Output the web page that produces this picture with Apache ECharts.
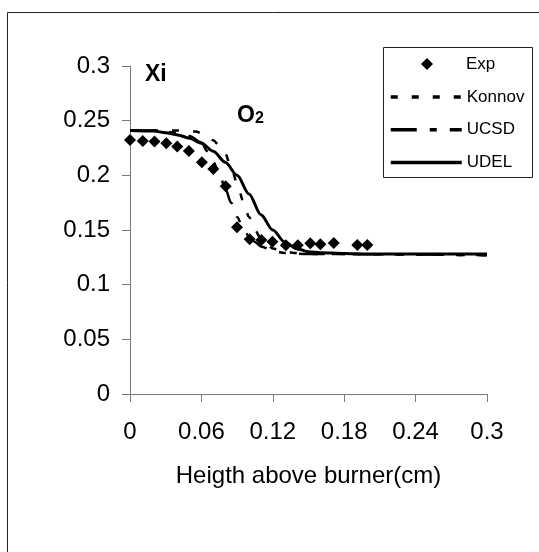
<!DOCTYPE html>
<html>
<head>
<meta charset="utf-8">
<script src="https://cdn.jsdelivr.net/npm/echarts@6/dist/echarts.min.js"></script>
<style>
html,body{margin:0;padding:0;background:#fff;}
#c{width:539px;height:552px;}
</style>
</head>
<body>
<div id="c"></div>
<script>
// Experimental data (Exp)
var expX = [0, 0.0107, 0.0206, 0.0305, 0.0397, 0.0495, 0.0604, 0.070, 0.0804, 0.0899, 0.1006, 0.1104, 0.1197, 0.131, 0.141, 0.1515, 0.160, 0.1712, 0.191, 0.1994];
var expY = [0.2324, 0.2315, 0.2310, 0.2293, 0.2263, 0.2223, 0.2120, 0.2058, 0.1900, 0.1525, 0.1415, 0.1409, 0.1393, 0.1360, 0.1360, 0.1378, 0.1370, 0.1382, 0.1363, 0.1363];

// Konnov model
var konX = [0, 0.04, 0.055, 0.065, 0.07, 0.075, 0.08, 0.085, 0.09, 0.095, 0.10, 0.105, 0.11, 0.115, 0.12, 0.13, 0.14, 0.16, 0.30];
var konY = [0.241, 0.241, 0.240, 0.236, 0.232, 0.227, 0.220, 0.207, 0.193, 0.177, 0.162, 0.150, 0.142, 0.137, 0.133, 0.130, 0.129, 0.128, 0.127];

// UCSD model
var ucsdX = [0, 0.02, 0.04, 0.05, 0.06, 0.065, 0.07, 0.075, 0.08, 0.085, 0.09, 0.095, 0.10, 0.105, 0.11, 0.12, 0.13, 0.15, 0.30];
var ucsdY = [0.241, 0.241, 0.239, 0.236, 0.230, 0.222, 0.212, 0.202, 0.188, 0.175, 0.162, 0.152, 0.144, 0.139, 0.135, 0.131, 0.129, 0.128, 0.127];

// UDEL model
var udelX = [0, 0.02, 0.03, 0.04, 0.05, 0.06, 0.07, 0.08, 0.09, 0.10, 0.11, 0.12, 0.13, 0.14, 0.15, 0.16, 0.18, 0.20, 0.30];
var udelY = [0.241, 0.2405, 0.239, 0.237, 0.234, 0.2294, 0.222, 0.212, 0.200, 0.183, 0.164, 0.150, 0.139, 0.133, 0.130, 0.1293, 0.1285, 0.128, 0.128];

var legendNames = ['Exp', 'Konnov', 'UCSD', 'UDEL'];
var xTicks = {min: 0, max: 0.3, interval: 0.06};
var yTicks = {min: 0, max: 0.3, interval: 0.05};

function zip(a, b) { return a.map(function (v, i) { return [v, b[i]]; }); }

var chart = echarts.init(document.getElementById('c'), null, {renderer: 'canvas'});
var axisFont = {fontFamily: "'Liberation Sans', Arial, sans-serif", fontSize: 24, color: '#000'};
var legFont = {fontFamily: "'Liberation Sans', Arial, sans-serif", fontSize: 17, color: '#000'};
var konDash = [7, 14], ucsdDash = [26, 13, 7, 13];

chart.setOption({
  animation: false,
  backgroundColor: '#fff',
  grid: {left: 130, right: 52, top: 66, bottom: 158, containLabel: false},
  xAxis: {
    type: 'value', min: xTicks.min, max: xTicks.max, interval: xTicks.interval,
    name: 'Heigth above burner(cm)', nameLocation: 'middle', nameGap: 70,
    nameTextStyle: axisFont,
    axisLine: {show: true, lineStyle: {color: '#7a7a7a', width: 1}},
    axisTick: {show: true, inside: false, length: 8, lineStyle: {color: '#7a7a7a'}},
    axisLabel: Object.assign({margin: 26}, axisFont),
    splitLine: {show: false}
  },
  yAxis: {
    type: 'value', min: yTicks.min, max: yTicks.max, interval: yTicks.interval,
    axisLine: {show: true, lineStyle: {color: '#7a7a7a', width: 1}},
    axisTick: {show: true, inside: false, length: 8, lineStyle: {color: '#7a7a7a'}},
    axisLabel: Object.assign({margin: 20}, axisFont),
    splitLine: {show: false}
  },
  legend: [
    {
      orient: 'vertical', left: 421, top: 55.5, padding: 0,
      itemWidth: 12, itemHeight: 12, symbolKeepAspect: true,
      data: [{name: legendNames[0], icon: 'diamond', itemStyle: {color: '#000', opacity: 1}}],
      textStyle: Object.assign({padding: [0, 0, 0, 28]}, legFont),
      selectedMode: false
    },
    {
      orient: 'vertical', left: 389, top: 88.5, padding: 0,
      itemGap: 15.7, itemWidth: 71, itemHeight: 12,
      data: [
        {name: legendNames[1], itemStyle: {opacity: 0}, lineStyle: {color: '#000', width: 3.5, type: konDash}},
        {name: legendNames[2], itemStyle: {opacity: 0}, lineStyle: {color: '#000', width: 3.5, type: ucsdDash}},
        {name: legendNames[3], itemStyle: {opacity: 0}, lineStyle: {color: '#000', width: 3.5, type: 'solid'}}
      ],
      textStyle: legFont,
      selectedMode: false
    }
  ],
  graphic: [
    {type: 'rect', shape: {x: 7.5, y: 12.5, width: 700, height: 700}, style: {fill: 'none', stroke: '#222', lineWidth: 1}, silent: true, z: -1},
    {type: 'rect', shape: {x: 383.5, y: 47.5, width: 149, height: 130}, style: {fill: 'none', stroke: '#222', lineWidth: 1}, silent: true, z: 10},
    {type: 'text', left: 145, top: 63, style: {text: 'Xi', font: "bold 23px 'Liberation Sans', Arial, sans-serif", fill: '#000'}, silent: true},
    {type: 'text', left: 237, top: 104, style: {
      text: '{a|O}{b|2}',
      rich: {
        a: {fontFamily: "'Liberation Sans', Arial, sans-serif", fontWeight: 'bold', fontSize: 23, fill: '#000', verticalAlign: 'bottom'},
        b: {fontFamily: "'Liberation Sans', Arial, sans-serif", fontWeight: 'bold', fontSize: 16, fill: '#000', padding: [9, 0, 0, 0], verticalAlign: 'bottom'}
      }
    }, silent: true}
  ],
  series: [
    {
      name: 'Konnov', type: 'line', data: zip(konX, konY), symbol: 'none', showSymbol: false,
      smooth: 0.3, smoothMonotone: 'x',
      lineStyle: {color: '#000', width: 2.5, type: konDash}, itemStyle: {color: '#000'}
    },
    {
      name: 'UCSD', type: 'line', data: zip(ucsdX, ucsdY), symbol: 'none', showSymbol: false,
      smooth: 0.3, smoothMonotone: 'x',
      lineStyle: {color: '#000', width: 2.5, type: ucsdDash}, itemStyle: {color: '#000'}
    },
    {
      name: 'UDEL', type: 'line', data: zip(udelX, udelY), symbol: 'none', showSymbol: false,
      smooth: 0.3, smoothMonotone: 'x',
      lineStyle: {color: '#000', width: 3}, itemStyle: {color: '#000'}
    },
    {
      name: 'Exp', type: 'scatter', data: zip(expX, expY), symbol: 'diamond', symbolSize: 12,
      itemStyle: {color: '#000', opacity: 1}
    }
  ]
});
</script>
</body>
</html>
